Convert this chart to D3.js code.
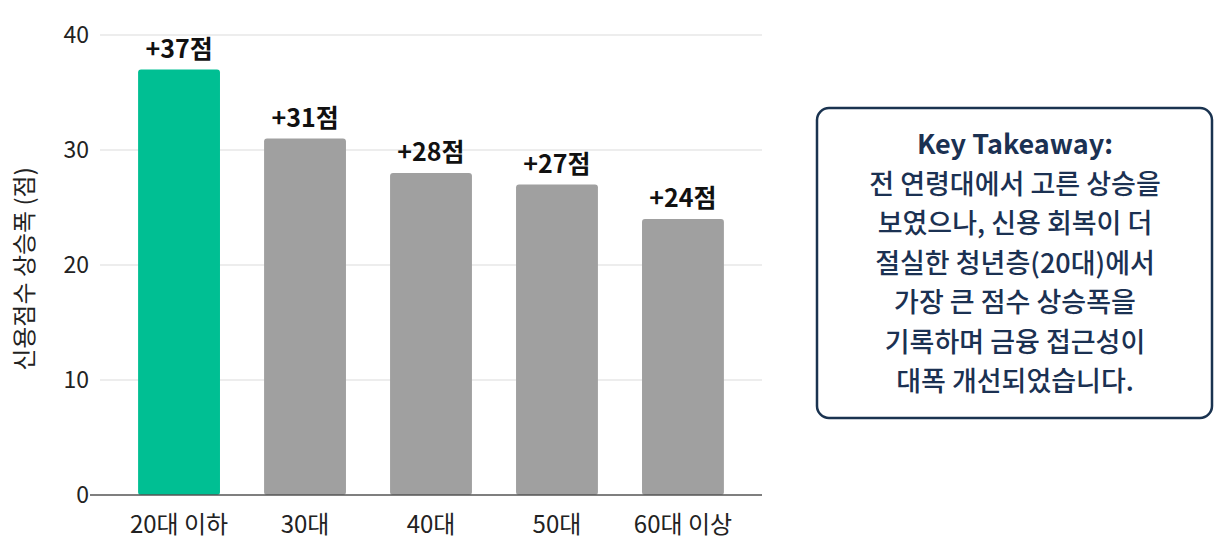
<!DOCTYPE html>
<html>
<head>
<meta charset="utf-8">
<script src="https://cdn.jsdelivr.net/npm/d3@7"></script>
<style>
  body { margin: 0; background: #fff; }
  svg { font-family: "Noto Sans CJK KR", "Noto Sans", sans-serif; }
</style>
</head>
<body>
<div id="chart"></div>
<script>
// data
const ageGroups = ["20대 이하", "30대", "40대", "50대", "60대 이상"];
const scoreGains = [37, 31, 28, 27, 24];
const yTicks = [0, 10, 20, 30, 40];
const yTitle = "신용점수 상승폭 (점)";
const noteTitle = "Key Takeaway:";
const noteLines = [
  "전 연령대에서 고른 상승을",
  "보였으나, 신용 회복이 더",
  "절실한 청년층(20대)에서",
  "가장 큰 점수 상승폭을",
  "기록하며 금융 접근성이",
  "대폭 개선되었습니다."
];

const W = 1229, H = 555;
const svg = d3.select("#chart").append("svg")
  .attr("width", W)
  .attr("height", H);

const x = d3.scaleBand()
  .domain(ageGroups)
  .range([94, 768])
  .padding(0.35);

const y = d3.scaleLinear()
  .domain([0, 40])
  .range([495, 35]);

// gridlines
svg.append("g")
  .selectAll("line")
  .data(yTicks.filter(d => d > 0))
  .enter().append("line")
  .attr("x1", 100)
  .attr("x2", 762)
  .attr("y1", d => y(d))
  .attr("y2", d => y(d))
  .attr("stroke", "#dcdcdc")
  .attr("stroke-width", 1.2);

// y tick labels
svg.append("g")
  .selectAll("text")
  .data(yTicks)
  .enter().append("text")
  .attr("x", 89)
  .attr("y", d => y(d))
  .attr("dy", "0.35em")
  .attr("text-anchor", "end")
  .attr("fill", "#222")
  .style("font-size", "23px")
  .text(d => d);

// bars
const rows = ageGroups.map((g, i) => ({group: g, value: scoreGains[i]}));

svg.append("g")
  .selectAll("rect")
  .data(rows)
  .enter().append("rect")
  .attr("x", d => x(d.group))
  .attr("width", x.bandwidth())
  .attr("y", d => y(d.value))
  .attr("height", d => y(0) - y(d.value))
  .attr("rx", 3)
  .attr("fill", (d, i) => i === 0 ? "#00bf93" : "#a0a0a0");

// baseline
svg.append("line")
  .attr("x1", 90)
  .attr("x2", 762)
  .attr("y1", y(0))
  .attr("y2", y(0))
  .attr("stroke", "#555")
  .attr("stroke-width", 1.5);

// value labels
svg.append("g")
  .selectAll("text")
  .data(rows)
  .enter().append("text")
  .attr("x", d => x(d.group) + x.bandwidth() / 2)
  .attr("y", d => y(d.value) - 12)
  .attr("text-anchor", "middle")
  .attr("fill", "#111")
  .style("font-size", "25px")
  .style("font-weight", "bold")
  .text(d => "+" + d.value + "점");

// x axis labels
svg.append("g")
  .selectAll("text")
  .data(ageGroups)
  .enter().append("text")
  .attr("x", d => x(d) + x.bandwidth() / 2)
  .attr("y", 533)
  .attr("text-anchor", "middle")
  .attr("fill", "#222")
  .style("font-size", "24px")
  .text(d => d);

// y axis title
svg.append("text")
  .attr("transform", "rotate(-90)")
  .attr("x", -269)
  .attr("y", 33)
  .attr("text-anchor", "middle")
  .attr("fill", "#222")
  .style("font-size", "24px")
  .text(yTitle);

// takeaway box
const box = svg.append("g");
box.append("rect")
  .attr("x", 817)
  .attr("y", 108)
  .attr("width", 395)
  .attr("height", 310)
  .attr("rx", 12)
  .attr("fill", "#fff")
  .attr("stroke", "#1a3350")
  .attr("stroke-width", 2.5);

const lineGap = 39.5;

box.append("text")
  .attr("x", 1015)
  .attr("y", 145)
  .attr("dy", "0.35em")
  .attr("text-anchor", "middle")
  .attr("fill", "#1b3152")
  .style("font-size", "27px")
  .style("font-weight", "bold")
  .text(noteTitle);

box.selectAll(".note-line")
  .data(noteLines)
  .enter().append("text")
  .attr("class", "note-line")
  .attr("x", 1015)
  .attr("y", (d, i) => 145 + (i + 1) * lineGap)
  .attr("dy", "0.35em")
  .attr("text-anchor", "middle")
  .attr("fill", "#1b3152")
  .style("font-size", "27px")
  .style("font-weight", "500")
  .text(d => d);
</script>
</body>
</html>
